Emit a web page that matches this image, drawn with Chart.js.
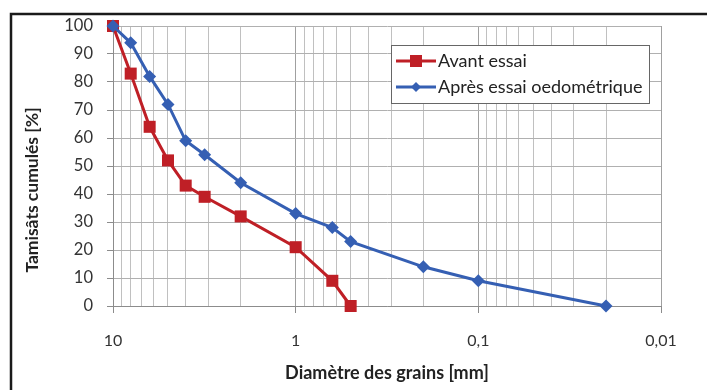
<!DOCTYPE html>
<html>
<head>
<meta charset="utf-8">
<script src="https://cdn.jsdelivr.net/npm/chart.js@4/dist/chart.umd.min.js"></script>
<style>
  html, body { margin: 0; padding: 0; background: #ffffff; }
  #wrap { position: relative; width: 707px; height: 390px; }
</style>
</head>
<body>
<div id="wrap"><canvas id="chart-grains"></canvas></div>
<script>
const FONT = 'Lato, "Open Sans", sans-serif';

// Sieve diameters [mm]
const diamAvant = [10, 8, 6.3, 5, 4, 3.15, 2, 1, 0.63, 0.5];
const diamApres = [10, 8, 6.3, 5, 4, 3.15, 2, 1, 0.63, 0.5, 0.2, 0.1, 0.02];
// Cumulated passing [%]
const avantEssai = [100, 83, 64, 52, 43, 39, 32, 21, 9, 0];
const apresEssai = [100, 94, 82, 72, 59, 54, 44, 33, 28, 23, 14, 9, 0];

const xMajorTicks = [10, 1, 0.1, 0.01];
const xMajorLabels = ['10', '1', '0,1', '0,01'];

const RED = '#bf1f26';
const BLUE = '#355fb3';

const toPoints = (xs, ys) => xs.map((x, i) => ({ x, y: ys[i] }));

const isMajor = (v) => xMajorTicks.some((m) => Math.abs(v - m) < m * 1e-6);

const framePlugin = {
  id: 'frameAndTitles',
  beforeDraw(chart) {
    const { ctx } = chart;
    ctx.save();
    ctx.strokeStyle = '#1a1a1a';
    ctx.lineWidth = 2.5;
    ctx.strokeRect(11, 14, 760, 460);
    ctx.restore();
  },
  afterDraw(chart) {
    const { ctx } = chart;
    // y axis title
    ctx.save();
    ctx.translate(32, 190);
    ctx.rotate(-Math.PI / 2);
    ctx.textAlign = 'center';
    ctx.textBaseline = 'middle';
    ctx.fillStyle = '#222';
    ctx.font = `bold 17.5px ${FONT}`;
    ctx.fillText('Tamisâts cumulés [%]', 0, 0);
    ctx.restore();

    // legend box
    const bx = 391, by = 45, bw = 258, bh = 58;
    ctx.save();
    ctx.fillStyle = '#ffffff';
    ctx.fillRect(bx, by, bw, bh);
    ctx.strokeStyle = '#666';
    ctx.lineWidth = 1;
    ctx.strokeRect(bx + 0.5, by + 0.5, bw, bh);
    const items = [
      { label: 'Avant essai', color: RED, style: 'rect' },
      { label: 'Après essai oedométrique', color: BLUE, style: 'rectRot' },
    ];
    items.forEach((it, i) => {
      const y = by + 16 + i * 26;
      ctx.strokeStyle = it.color;
      ctx.lineWidth = 3;
      ctx.beginPath();
      ctx.moveTo(bx + 5, y);
      ctx.lineTo(bx + 45, y);
      ctx.stroke();
      ctx.fillStyle = it.color;
      if (it.style === 'rect') {
        ctx.fillRect(bx + 19, y - 6, 12, 12);
      } else {
        ctx.beginPath();
        ctx.moveTo(bx + 25, y - 5);
        ctx.lineTo(bx + 30, y);
        ctx.lineTo(bx + 25, y + 5);
        ctx.lineTo(bx + 20, y);
        ctx.closePath();
        ctx.fill();
      }
      ctx.fillStyle = '#222';
      ctx.font = `18px ${FONT}`;
      ctx.textAlign = 'left';
      ctx.textBaseline = 'middle';
      ctx.fillText(it.label, bx + 47, y);
    });
    ctx.restore();
  },
};

new Chart(document.getElementById('chart-grains'), {
  type: 'line',
  data: {
    datasets: [
      {
        label: 'Avant essai',
        data: toPoints(diamAvant, avantEssai),
        borderColor: RED,
        backgroundColor: RED,
        borderWidth: 3,
        pointStyle: 'rect',
        pointRadius: 8.5,
        pointBorderWidth: 0,
        tension: 0,
        clip: false,
        order: 1,
      },
      {
        label: 'Après essai oedométrique',
        data: toPoints(diamApres, apresEssai),
        borderColor: BLUE,
        backgroundColor: BLUE,
        borderWidth: 3,
        pointStyle: 'rectRot',
        pointRadius: 6.5,
        pointBorderWidth: 0,
        tension: 0,
        clip: false,
        order: 0,
      },
    ],
  },
  options: {
    responsive: true,
    maintainAspectRatio: false,
    animation: false,
    layout: { padding: { top: 26, right: 46, bottom: 0, left: 0 } },
    plugins: {
      legend: { display: false },
      tooltip: { enabled: false },
    },
    scales: {
      x: {
        type: 'logarithmic',
        reverse: true,
        min: 0.01,
        max: 10,
        afterBuildTicks(scale) {
          const ticks = [];
          for (let e = -2; e <= 0; e++) {
            for (let m = 1; m <= 9; m++) ticks.push({ value: m * Math.pow(10, e) });
          }
          ticks.push({ value: 10 });
          scale.ticks = ticks;
        },
        afterFit(scale) { scale.height = 84; },
        grid: {
          color: (c) => (c.tick && isMajor(c.tick.value) ? '#a0a0a0' : '#c0c0c0'),
          lineWidth: 1,
          tickLength: 7,
          tickColor: (c) => (c.tick && isMajor(c.tick.value) ? '#8c8c8c' : 'rgba(0,0,0,0)'),
        },
        border: { display: true, color: '#8c8c8c' },
        ticks: {
          autoSkip: false,
          maxRotation: 0,
          padding: 18,
          color: '#333',
          font: { family: FONT, size: 16 },
          callback(value) {
            const idx = xMajorTicks.findIndex((m) => Math.abs(value - m) < m * 1e-6);
            return idx >= 0 ? xMajorLabels[idx] : '';
          },
        },
        title: {
          display: true,
          text: 'Diamètre des grains [mm]',
          color: '#222',
          font: { family: FONT, size: 18, weight: 'bold' },
          padding: { top: 0, bottom: 6 },
        },
      },
      y: {
        min: 0,
        max: 100,
        afterFit(scale) { scale.width = 113; },
        grid: { color: '#b0b0b0', lineWidth: 1, tickLength: 6, tickColor: '#8c8c8c' },
        border: { display: true, color: '#8c8c8c' },
        ticks: {
          stepSize: 10,
          padding: 14,
          color: '#333',
          font: { family: FONT, size: 16.5 },
        },
      },
    },
  },
  plugins: [framePlugin],
});
</script>
</body>
</html>
